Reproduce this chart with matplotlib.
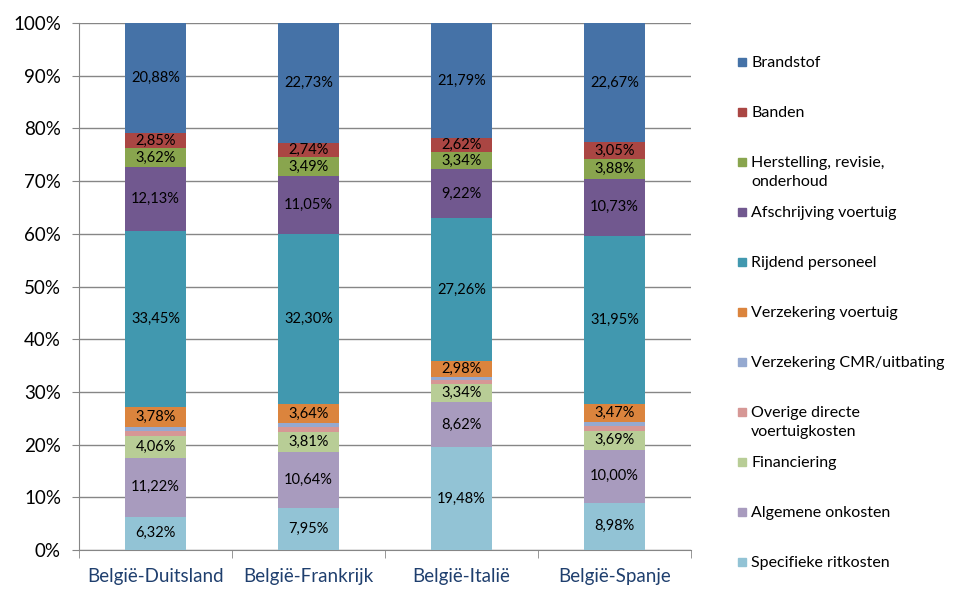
import numpy as np
import matplotlib.pyplot as plt
from matplotlib.patches import Rectangle

plt.rcParams['font.family'] = ['Lato', 'DejaVu Sans']

categories = ["België-Duitsland", "België-Frankrijk", "België-Italië", "België-Spanje"]

# stacked from bottom to top
series_names = [
    "Specifieke ritkosten",
    "Algemene onkosten",
    "Financiering",
    "Overige directe\nvoertuigkosten",
    "Verzekering CMR/uitbating",
    "Verzekering voertuig",
    "Rijdend personeel",
    "Afschrijving voertuig",
    "Herstelling, revisie,\nonderhoud",
    "Banden",
    "Brandstof",
]

specifieke = [6.32, 7.95, 19.48, 8.98]
algemene = [11.22, 10.64, 8.62, 10.00]
financiering = [4.06, 3.81, 3.34, 3.69]
overige = [0.94, 0.95, 0.75, 0.93]
cmr = [0.75, 0.70, 0.60, 0.65]
verz_voertuig = [3.78, 3.64, 2.98, 3.47]
rijdend = [33.45, 32.30, 27.26, 31.95]
afschrijving = [12.13, 11.05, 9.22, 10.73]
herstelling = [3.62, 3.49, 3.34, 3.88]
banden = [2.85, 2.74, 2.62, 3.05]
brandstof = [20.88, 22.73, 21.79, 22.67]

series_values = [specifieke, algemene, financiering, overige, cmr, verz_voertuig,
                 rijdend, afschrijving, herstelling, banden, brandstof]
show_label = [True, True, True, False, False, True, True, True, True, True, True]

colors = ["#92C3D5", "#A89BBE", "#B8CD96", "#D69795", "#95A9D0", "#DB843D",
          "#4198AF", "#71588F", "#89A54E", "#AA4643", "#4572A7"]

fig = plt.figure(figsize=(9.8, 6.02), dpi=100)
ax = fig.add_axes([79/980, 1 - 550/602, (691-79)/980, (550-23)/602])

x = np.arange(len(categories))
bottom = np.zeros(len(categories))
for vals, col, lab in zip(series_values, colors, show_label):
    vals = np.array(vals)
    ax.bar(x, vals, 0.4, bottom=bottom, color=col, zorder=3)
    if lab:
        for xi, b, v in zip(x, bottom, vals):
            ax.text(xi, b + v / 2, f"{v:.2f}%".replace(".", ","), ha="center",
                    va="center", fontsize=10.5, color="black", zorder=4)
    bottom += vals

ax.set_xlim(-0.5, len(categories) - 0.5)
ax.set_ylim(0, 100)
ax.set_yticks(np.arange(0, 101, 10))
ax.set_yticklabels([f"{t}%" for t in range(0, 101, 10)], fontsize=13.5)
ax.yaxis.grid(True, color="#868686", linewidth=1, zorder=0)
ax.set_xticks(x)
ax.set_xticklabels(categories, fontsize=13.5, color="#1F3F6E")
ax.set_xticks(np.arange(-0.5, len(categories), 1), minor=True)
ax.tick_params(axis="x", which="major", length=0, pad=13)
ax.tick_params(axis="x", which="minor", length=6, color="#868686", direction="out")
ax.tick_params(axis="y", length=5, color="#868686", pad=8)
for s in ["top", "right"]:
    ax.spines[s].set_visible(False)
for s in ["left", "bottom"]:
    ax.spines[s].set_color("#868686")

# legend, top entry first
for i, (name, col) in enumerate(zip(series_names[::-1], colors[::-1])):
    ytop = 62 + i * 50
    fig.patches.append(Rectangle((738/980, 1 - (ytop + 4)/602), 8/980, 8/602,
                                 transform=fig.transFigure, color=col))
    fig.text(751/980, 1 - (ytop - 6)/602, name, fontsize=11.5, va="top",
             ha="left", linespacing=1.45)

fig.savefig("out.png", dpi=100)
